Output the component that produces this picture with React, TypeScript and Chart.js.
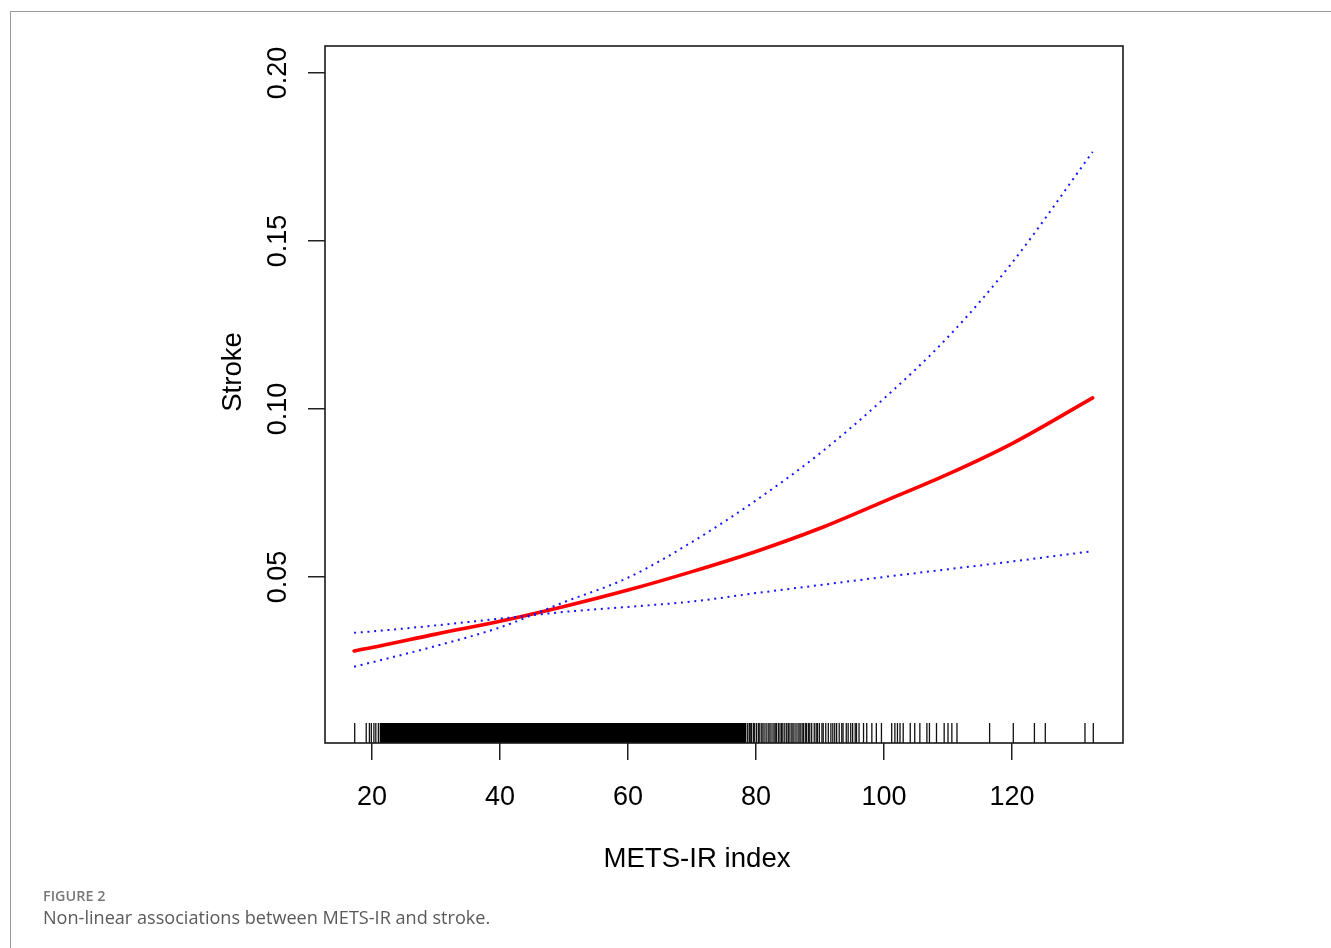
import React, { useEffect, useRef } from "react";
import { Chart, registerables } from "chart.js";

Chart.register(...registerables);

// ---- data ----
const xGrid = [17.2, 20, 30, 40, 50, 60, 70, 80, 90, 100, 110, 120, 132.6];
const strokeFit = [0.028, 0.029, 0.033, 0.0368, 0.0412, 0.0461, 0.0516, 0.0576, 0.0645, 0.0725, 0.0806, 0.0897, 0.1033];
const ciSteep = [0.0233, 0.0246, 0.0295, 0.035, 0.0425, 0.0498, 0.0604, 0.0728, 0.0868, 0.1031, 0.1214, 0.1435, 0.1765];
const ciFlat = [0.0334, 0.0338, 0.0356, 0.0376, 0.0396, 0.0411, 0.0427, 0.0452, 0.0476, 0.05, 0.0523, 0.0546, 0.0577];

const xTickValues = [20, 40, 60, 80, 100, 120];
const yTickValues = [0.05, 0.1, 0.15, 0.2];
const yTickLabels = ["0.05", "0.10", "0.15", "0.20"];

// rug: dense band of observations and individual observations
const rugDense = [21.2, 78.5];
const rugValues = [
  17.3, 19.1, 19.6, 19.9, 20.3, 20.6, 21.0,
  78.7, 78.96, 79.1, 79.3, 79.6, 79.8, 80.1, 80.4, 80.6, 80.9, 81.1, 81.4, 81.7, 82.0, 82.2, 82.5,
  82.8, 83, 83.2, 83.5, 83.75, 84.0, 84.2, 84.5, 84.8, 85.05, 85.3, 85.6, 85.8, 86.1, 86.4,
  86.7, 86.9, 87.2, 87.4, 87.7, 87.9, 88.2, 88.4, 88.7, 89.1, 89.4, 89.6, 89.9, 90.3,
  90.5, 90.9, 91.3, 91.7, 92, 92.3, 92.6, 93, 93.4, 93.6, 94.1, 94.4, 94.8, 95.1, 95.5,
  95.7, 96.1, 96.8, 97.3, 98.1, 98.8, 99.6, 101.2, 101.7, 102.1, 102.5, 103, 104.1,
  104.8, 105.6, 106.7, 107.1, 108.2, 109.4, 110, 110.6, 111.4, 116.5, 120.2, 123.5,
  125.2, 131.4, 132.7,
];

const xRange = [12.66, 137.34];
const yRange = [0.0006, 0.208];

const xTitle = "METS-IR index";
const yTitle = "Stroke";

const FONT = '"Liberation Sans", Arial, Helvetica, sans-serif';

const rPlugin = {
  id: "rstyle",
  beforeDatasetsDraw(chart: any) {
    const { ctx, chartArea: a } = chart;
    const x = chart.scales.x;
    ctx.save();
    ctx.fillStyle = "#000";
    const x0 = x.getPixelForValue(rugDense[0]);
    const x1 = x.getPixelForValue(rugDense[1]);
    ctx.fillRect(x0, a.bottom - 20, x1 - x0, 20);
    ctx.strokeStyle = "#111";
    ctx.lineWidth = 1.3;
    for (const v of rugValues) {
      const px = x.getPixelForValue(v);
      ctx.beginPath();
      ctx.moveTo(px, a.bottom);
      ctx.lineTo(px, a.bottom - 20);
      ctx.stroke();
    }
    ctx.restore();
  },
  afterDraw(chart: any) {
    const { ctx, chartArea: a } = chart;
    const x = chart.scales.x;
    const y = chart.scales.y;
    ctx.save();
    ctx.strokeStyle = "#1a1a1a";
    ctx.lineWidth = 1.6;
    ctx.strokeRect(a.left, a.top, a.right - a.left, a.bottom - a.top);

    ctx.fillStyle = "#000";
    ctx.font = `27px ${FONT}`;
    ctx.textAlign = "center";
    ctx.textBaseline = "alphabetic";
    xTickValues.forEach((v) => {
      ctx.fillText(String(v), x.getPixelForValue(v), 797);
    });
    yTickValues.forEach((v, i) => {
      ctx.save();
      ctx.translate(278, y.getPixelForValue(v));
      ctx.rotate(-Math.PI / 2);
      ctx.fillText(yTickLabels[i], 0, 0);
      ctx.restore();
    });
    ctx.font = `27.6px ${FONT}`;
    ctx.fillText(xTitle, 689, 859);
    ctx.save();
    ctx.translate(233, 364);
    ctx.rotate(-Math.PI / 2);
    ctx.fillText(yTitle, 0, 0);
    ctx.restore();
    ctx.restore();
  },
};

export default function App() {
  const ref = useRef<HTMLCanvasElement | null>(null);
  useEffect(() => {
    document.documentElement.style.overflow = "hidden";
    document.body.style.overflow = "hidden";
    const canvas = ref.current;
    if (!canvas) return;
    const pts = (ys: number[]) => xGrid.map((xv, i) => ({ x: xv, y: ys[i] }));
    const chart = new Chart(canvas, {
      type: "line",
      data: {
        datasets: [
          {
            data: pts(ciSteep),
            borderColor: "#1515ff",
            borderWidth: 2,
            borderDash: [2, 4.7],
            pointRadius: 0,
            cubicInterpolationMode: "monotone",
            fill: false,
          },
          {
            data: pts(ciFlat),
            borderColor: "#1515ff",
            borderWidth: 2,
            borderDash: [2, 4.7],
            pointRadius: 0,
            cubicInterpolationMode: "monotone",
            fill: false,
          },
          {
            data: pts(strokeFit),
            borderColor: "#ff0000",
            borderWidth: 3.6,
            borderCapStyle: "round",
            pointRadius: 0,
            cubicInterpolationMode: "monotone",
            fill: false,
          },
        ],
      },
      options: {
        responsive: false,
        animation: false,
        events: [],
        layout: { padding: { top: 38, right: 200, left: 0, bottom: 0 } },
        plugins: { legend: { display: false }, tooltip: { enabled: false }, title: { display: false } },
        scales: {
          x: {
            type: "linear",
            min: xRange[0],
            max: xRange[1],
            afterBuildTicks: (s: any) => {
              s.ticks = xTickValues.map((v) => ({ value: v }));
            },
            afterFit: (s: any) => {
              s.height = 197;
            },
            ticks: { display: false },
            border: { display: false },
            grid: { drawOnChartArea: false, drawTicks: true, tickLength: 17, color: "#222", lineWidth: 1.5 },
          },
          y: {
            type: "linear",
            min: yRange[0],
            max: yRange[1],
            afterBuildTicks: (s: any) => {
              s.ticks = yTickValues.map((v) => ({ value: v }));
            },
            afterFit: (s: any) => {
              s.width = 317;
            },
            ticks: { display: false },
            border: { display: false },
            grid: { drawOnChartArea: false, drawTicks: true, tickLength: 17, color: "#222", lineWidth: 1.5 },
          },
        },
      },
      plugins: [rPlugin],
    } as any);
    return () => chart.destroy();
  }, []);

  return (
    <div style={{ position: "relative", width: 1315, height: 932 }}>
      <div
        style={{
          position: "fixed",
          left: 10,
          top: 11,
          right: 0,
          bottom: 0,
          borderTop: "1px solid #9a9a9a",
          borderLeft: "1px solid #9a9a9a",
          boxSizing: "border-box",
        }}
      />
      <canvas ref={ref} width={1315} height={932} style={{ position: "absolute", left: 0, top: 0 }} />
      <div
        style={{
          position: "absolute",
          left: 35,
          top: 881,
          fontFamily: '"Open Sans", sans-serif',
          fontSize: 14.4,
          lineHeight: "14px",
          fontWeight: 600,
          color: "#777",
          whiteSpace: "nowrap",
        }}
      >
        FIGURE 2
      </div>
      <div
        style={{
          position: "absolute",
          left: 35,
          top: 900,
          fontFamily: '"Open Sans", sans-serif',
          fontSize: 18.1,
          lineHeight: "18px",
          fontWeight: 400,
          color: "#5a5a5a",
          whiteSpace: "nowrap",
        }}
      >
        Non-linear associations between METS-IR and stroke.
      </div>
    </div>
  );
}
